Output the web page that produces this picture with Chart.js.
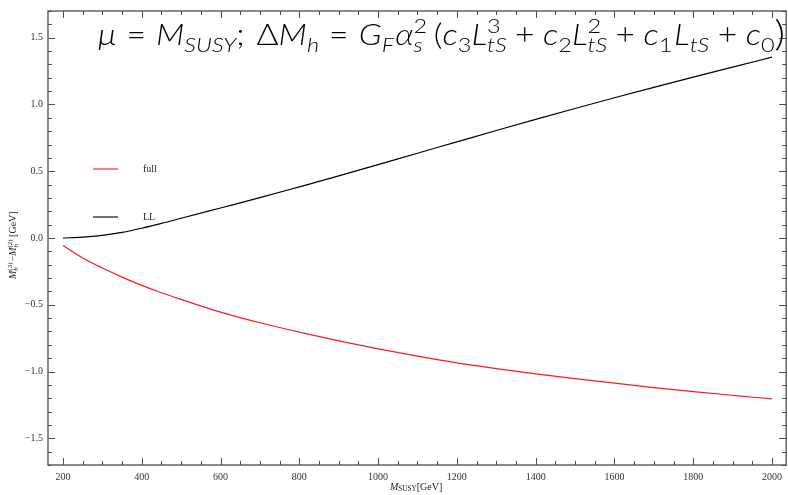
<!DOCTYPE html>
<html lang="en">
<head>
  <meta charset="UTF-8">
  <title>Mh(3) - Mh(2) vs MSUSY</title>
  <script src="https://cdn.jsdelivr.net/npm/chart.js"></script>
  <style>
    html, body { margin: 0; padding: 0; background: #fff; }
    #wrap { width: 788px; height: 495px; }
  </style>
</head>
<body>
  <div id="wrap"><canvas id="chart" width="788" height="495"></canvas></div>
  <script>
    // values
    const mSusy = [200, 250, 300, 350, 400, 450, 500, 600, 700, 800, 900, 1000,
                   1100, 1200, 1300, 1400, 1500, 1600, 1700, 1800, 1900, 2000];
    const fullDiff = [-0.057, -0.15, -0.225, -0.293, -0.355, -0.41, -0.46, -0.555, -0.635, -0.705, -0.77, -0.83,
                      -0.885, -0.935, -0.978, -1.017, -1.053, -1.087, -1.12, -1.15, -1.178, -1.205];
    const llDiff = [0.0, 0.006, 0.02, 0.042, 0.073, 0.109, 0.148, 0.225, 0.302, 0.383, 0.465, 0.55,
                    0.635, 0.72, 0.805, 0.888, 0.97, 1.05, 1.128, 1.205, 1.28, 1.354];
    const xTicks = [200, 400, 600, 800, 1000, 1200, 1400, 1600, 1800, 2000];
    const yTicks = [-1.5, -1.0, -0.5, 0.0, 0.5, 1.0, 1.5];
    const seriesNames = ['full', 'LL'];

    const serif = '"Liberation Serif", "DejaVu Serif", serif';
    const mathFont = 'Lato, "Open Sans", sans-serif';
    const frameColor = '#4d4d4d';

    // draw a row of text pieces; piece: {t, i, sub, sup, s, dy, gap}
    function drawRuns(ctx, x, y, runs, base, family, weight) {
      const wt = weight ? weight + ' ' : '';
      ctx.textBaseline = 'alphabetic';
      ctx.textAlign = 'left';
      for (const r of runs) {
        if (r.gap) { x += r.gap * base; continue; }
        if (r.sub !== undefined || r.sup !== undefined) {
          let w = 0;
          if (r.sub !== undefined) {
            ctx.font = `${r.subI ? 'italic ' : ''}${wt}${base * 0.7}px ${family}`;
            ctx.fillText(r.sub, x, y + base * 0.24);
            w = Math.max(w, ctx.measureText(r.sub).width);
          }
          if (r.sup !== undefined) {
            ctx.font = `${r.supI ? 'italic ' : ''}${wt}${base * 0.7}px ${family}`;
            ctx.fillText(r.sup, x, y - base * 0.42);
            w = Math.max(w, ctx.measureText(r.sup).width);
          }
          x += w;
          continue;
        }
        const s = r.s || 1;
        ctx.font = `${r.i ? 'italic ' : ''}${wt}${base * s}px ${family}`;
        ctx.fillText(r.t, x, y + (r.dy || 0) * base);
        x += ctx.measureText(r.t).width;
      }
      return x;
    }

    const formula = [
      {t: 'μ', i: true}, {gap: 0.3}, {t: '='}, {gap: 0.3},
      {t: 'M', i: true}, {sub: 'SUSY', subI: true}, {t: ';'}, {gap: 0.35},
      {t: 'Δ'}, {t: 'M', i: true}, {sub: 'h', subI: true}, {gap: 0.3}, {t: '='}, {gap: 0.3},
      {t: 'G', i: true}, {sub: 'F', subI: true}, {gap: 0.03}, {t: 'α', i: true}, {sub: 's', sup: '2', subI: true}, {gap: 0.2},
      {t: '('}, {t: 'c', i: true}, {sub: '3'}, {t: 'L', i: true}, {sub: 'tS', sup: '3', subI: true},
      {gap: 0.25}, {t: '+'}, {gap: 0.25},
      {t: 'c', i: true}, {sub: '2'}, {t: 'L', i: true}, {sub: 'tS', sup: '2', subI: true},
      {gap: 0.25}, {t: '+'}, {gap: 0.25},
      {t: 'c', i: true}, {sub: '1'}, {gap: 0.05}, {t: 'L', i: true}, {sub: 'tS', subI: true},
      {gap: 0.25}, {t: '+'}, {gap: 0.25},
      {t: 'c', i: true}, {sub: '0'}, {t: ')', s: 1.2, dy: 0.05}
    ];

    const framePlugin = {
      id: 'frame',
      afterDraw(chart) {
        const ctx = chart.ctx;
        const a = chart.chartArea;
        const xs = chart.scales.x, ys = chart.scales.y;
        ctx.save();
        ctx.strokeStyle = frameColor;
        ctx.lineWidth = 1.3;
        ctx.strokeRect(a.left, a.top, a.right - a.left, a.bottom - a.top);

        // inward ticks on all four sides
        ctx.lineWidth = 1;
        ctx.beginPath();
        for (let v = 150; v <= 2050; v += 50) {
          if (v < xs.min || v > xs.max) continue;
          const px = Math.round(xs.getPixelForValue(v)) + 0.5;
          const len = v % 200 === 0 ? 7 : 4;
          ctx.moveTo(px, a.bottom); ctx.lineTo(px, a.bottom - len);
          ctx.moveTo(px, a.top); ctx.lineTo(px, a.top + len);
        }
        for (let k = -17; k <= 17; k++) {
          const v = k / 10;
          if (v < ys.min || v > ys.max) continue;
          const py = Math.round(ys.getPixelForValue(v)) + 0.5;
          const len = k % 5 === 0 ? 7 : 4;
          ctx.moveTo(a.left, py); ctx.lineTo(a.left + len, py);
          ctx.moveTo(a.right, py); ctx.lineTo(a.right - len, py);
        }
        ctx.stroke();

        // legend inside the plot
        ctx.font = `10px ${serif}`;
        ctx.textBaseline = 'middle';
        ctx.textAlign = 'left';
        const legY = [169, 217];
        chart.data.datasets.forEach((ds, i) => {
          ctx.strokeStyle = ds.borderColor;
          ctx.lineWidth = 1.1;
          ctx.beginPath();
          ctx.moveTo(93, legY[i]); ctx.lineTo(118, legY[i]);
          ctx.stroke();
          ctx.fillStyle = '#222';
          ctx.fillText(ds.label, 143, legY[i]);
        });

        // formula: glyph height fixed, stretched sideways to the reference width
        ctx.fillStyle = '#000';
        const base = 29;
        ctx.save();
        ctx.globalAlpha = 0;
        const w0 = drawRuns(ctx, 0, -1000, formula, base, mathFont, 300);
        ctx.restore();
        ctx.save();
        ctx.translate(98, 45);
        ctx.scale(687 / w0, 1);
        drawRuns(ctx, 0, 0, formula, base, mathFont, 300);
        ctx.restore();

        // x-axis title
        ctx.fillStyle = '#222';
        drawRuns(ctx, 390, 490, [
          {t: 'M', i: true}, {t: 'SUSY', s: 0.72, dy: 0.12}, {t: '[GeV]'}
        ], 10, serif);

        // y-axis title (rotated)
        ctx.translate(16, 279);
        ctx.rotate(-Math.PI / 2);
        drawRuns(ctx, 0, 0, [
          {t: 'M', i: true}, {sub: 'h', sup: '(3)', subI: true}, {gap: 0.1}, {t: '−'},
          {t: 'M', i: true}, {sub: 'h', sup: '(2)', subI: true}, {t: ' [GeV]'}
        ], 10, serif);
        ctx.restore();
      }
    };

    const ctx = document.getElementById('chart').getContext('2d');
    new Chart(ctx, {
      type: 'line',
      data: {
        datasets: [
          {
            label: seriesNames[0],
            data: mSusy.map((x, i) => ({x: x, y: fullDiff[i]})),
            borderColor: '#ff1a1a',
            borderWidth: 1.2,
            pointRadius: 0,
            cubicInterpolationMode: 'monotone',
            fill: false
          },
          {
            label: seriesNames[1],
            data: mSusy.map((x, i) => ({x: x, y: llDiff[i]})),
            borderColor: '#000000',
            borderWidth: 1.2,
            pointRadius: 0,
            cubicInterpolationMode: 'monotone',
            fill: false
          }
        ]
      },
      options: {
        responsive: false,
        animation: false,
        layout: { padding: { top: 7, right: 1, left: 0, bottom: 0 } },
        plugins: {
          legend: { display: false },
          tooltip: { enabled: false }
        },
        scales: {
          x: {
            type: 'linear',
            min: 162,
            max: 2036,
            grid: { display: false, drawTicks: false },
            border: { display: false },
            afterBuildTicks: (s) => { s.ticks = xTicks.map(v => ({value: v})); },
            afterFit: (s) => { s.height = 30; },
            ticks: {
              padding: 6,
              color: '#333',
              font: { family: serif, size: 10 },
              maxRotation: 0,
              autoSkip: false,
              callback: (v) => String(v)
            }
          },
          y: {
            type: 'linear',
            min: -1.7,
            max: 1.7,
            grid: { display: false, drawTicks: false },
            border: { display: false },
            afterBuildTicks: (s) => { s.ticks = yTicks.map(v => ({value: v})); },
            afterFit: (s) => { s.width = 48; },
            ticks: {
              padding: 5,
              color: '#333',
              font: { family: serif, size: 10 },
              autoSkip: false,
              callback: (v) => v.toFixed(1).replace('-', '−')
            }
          }
        }
      },
      plugins: [framePlugin]
    });
  </script>
</body>
</html>
